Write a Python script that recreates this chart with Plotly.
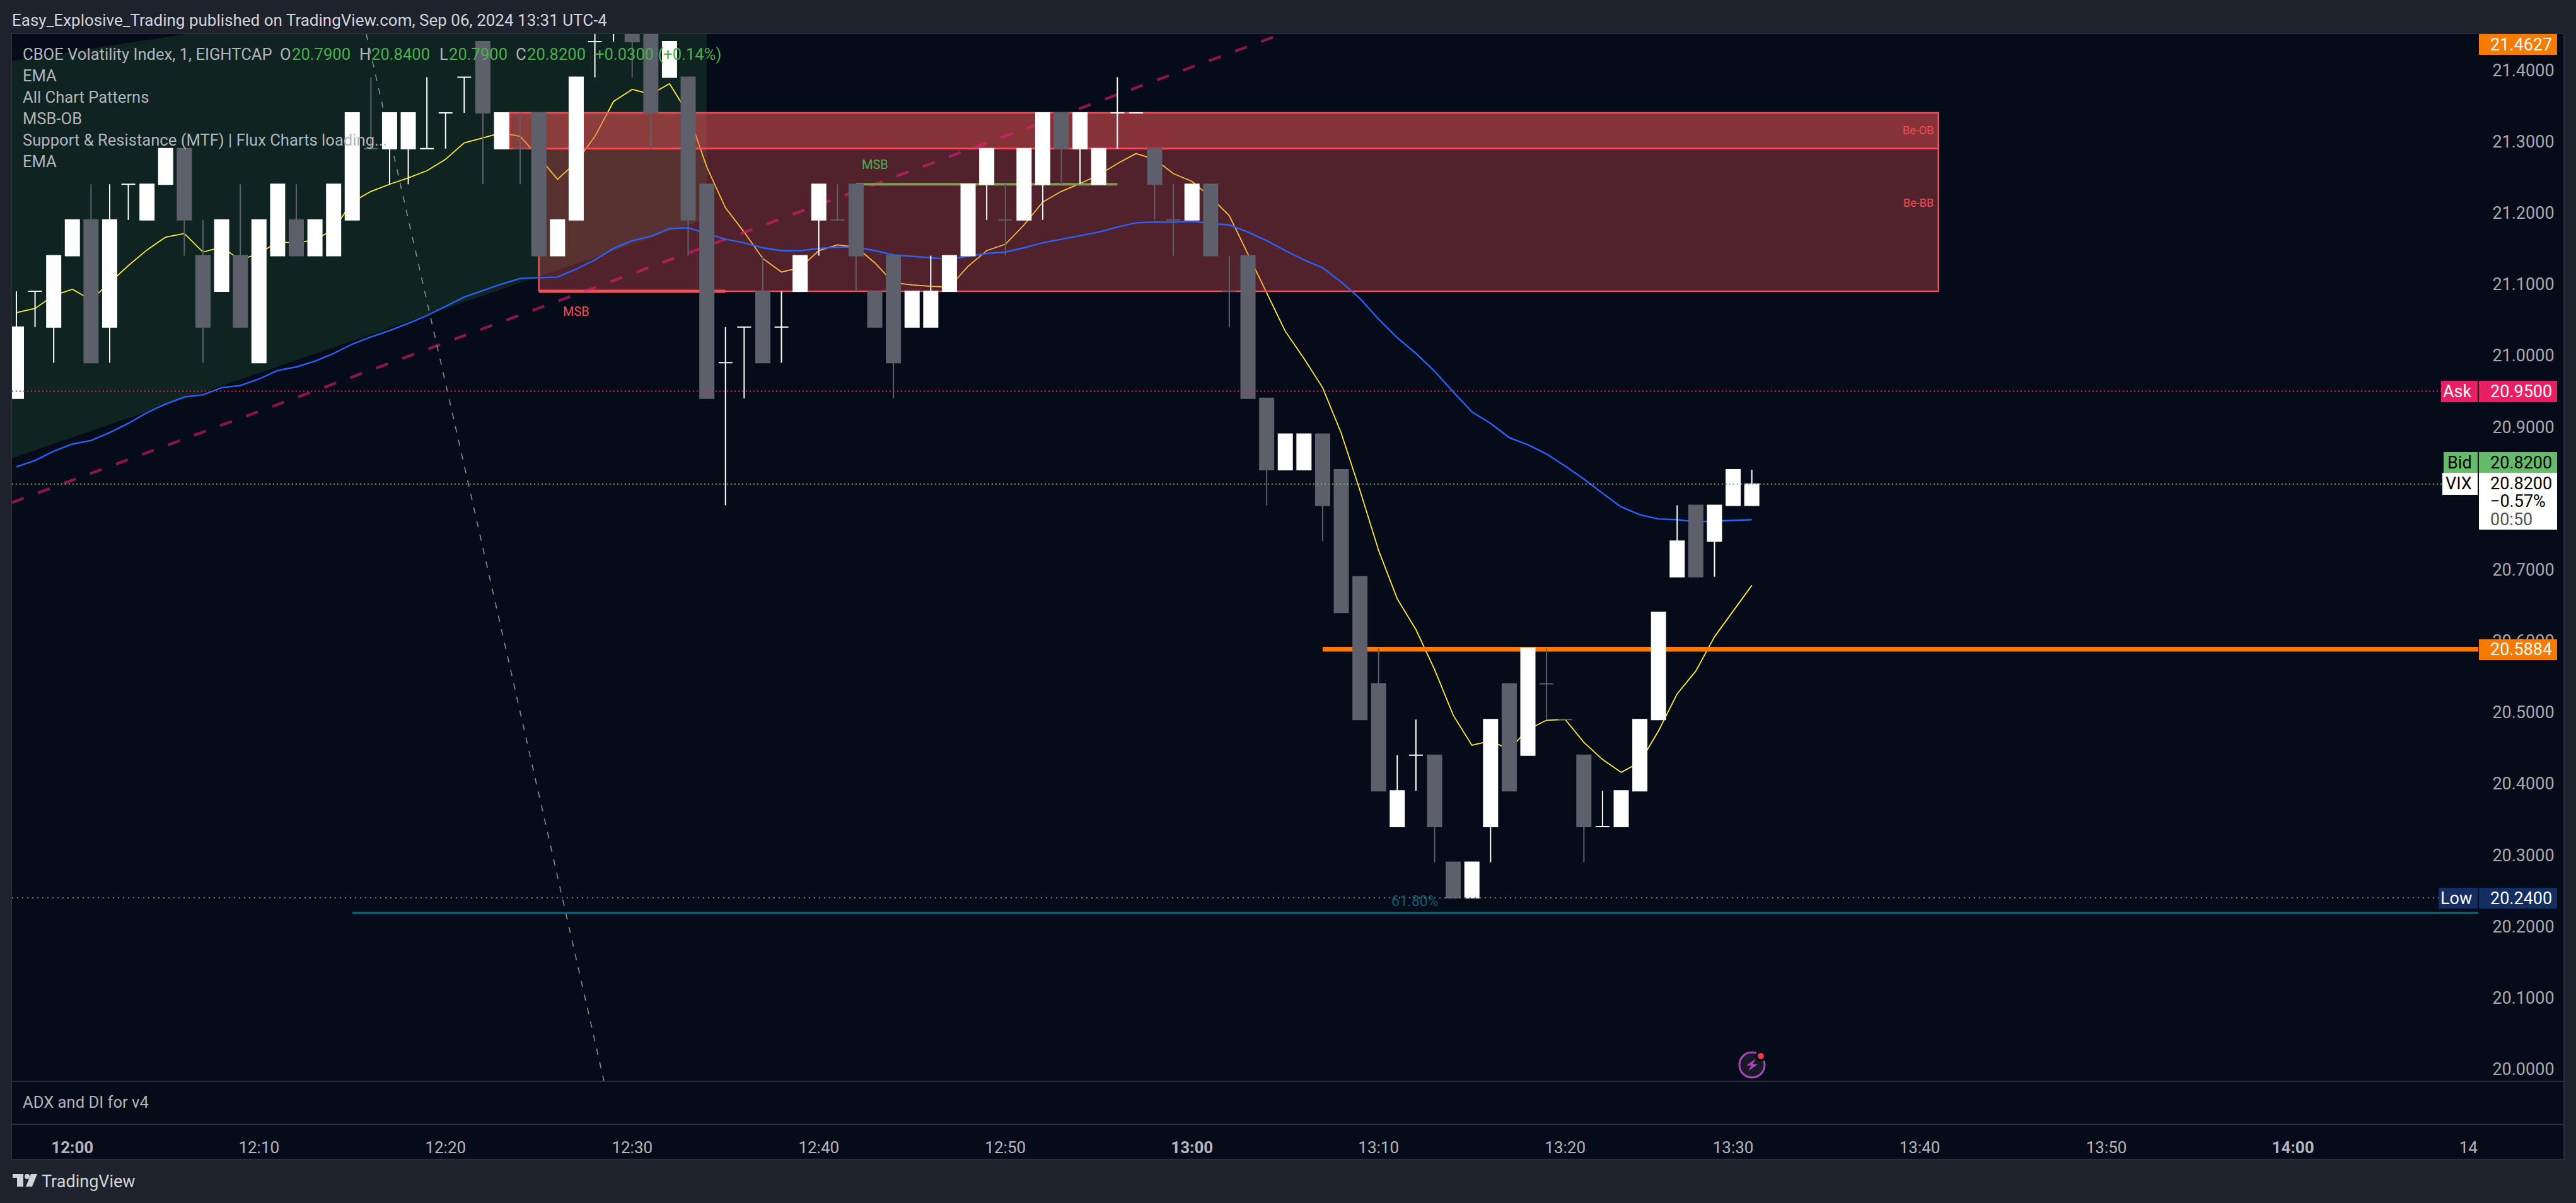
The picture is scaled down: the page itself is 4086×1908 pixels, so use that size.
import plotly.graph_objects as go

# bar index 3 is 12:00, one bar per minute, 13:30 sits on index 92 (a bar is missing)
tick_vals = [3, 13, 23, 33, 43, 53, 63, 73, 83, 92, 102, 112, 122, 131.4]
tick_text = ["<b>12:00</b>", "12:10", "12:20", "12:30", "12:40", "12:50", "<b>13:00</b>", "13:10",
             "13:20", "13:30", "13:40", "13:50", "<b>14:00</b>", "14"]
# 20.8 is left out, the Bid and VIX labels cover it
price_ticks = [21.4, 21.3, 21.2, 21.1, 21.0, 20.9, 20.7, 20.6, 20.5, 20.4, 20.3, 20.2, 20.1, 20.0]

bar_up = ("wwwwgwwwwg" "gwgwwgwwwg" "wwwwwgwggw" "wwwggwggww" "gwwwggggww"
          "wwwgwwgwww" "wggwggggww" "ggggwwggww" "gwgggwwwww" "gwww")
bar_open = [20.94, 21.09, 21.04, 21.14, 21.19, 21.04, 21.24, 21.19, 21.24, 21.29,
            21.14, 21.09, 21.14, 20.99, 21.14, 21.19, 21.14, 21.14, 21.19, 21.29,
            21.29, 21.29, 21.29, 21.34, 21.39, 21.44, 21.29, 21.29, 21.34, 21.14,
            21.19, 21.44, 21.49, 21.49, 21.49, 21.39, 21.39, 21.24, 20.99, 21.04,
            21.09, 21.04, 21.09, 21.19, 21.19, 21.24, 21.09, 21.14, 21.04, 21.04,
            21.09, 21.14, 21.24, 21.19, 21.19, 21.24, 21.34, 21.29, 21.24, 21.34,
            21.34, 21.29, 21.19, 21.19, 21.24, 21.09, 21.14, 20.94, 20.84, 20.84,
            20.89, 20.84, 20.69, 20.54, 20.34, 20.44, 20.44, 20.29, 20.24, 20.34,
            20.54, 20.44, 20.54, 20.49, 20.44, 20.34, 20.34, 20.39, 20.49, 20.69,
            20.79, 20.74, 20.79, 20.79]
bar_high = [21.09, 21.09, 21.14, 21.19, 21.24, 21.24, 21.24, 21.24, 21.29, 21.29,
            21.19, 21.19, 21.24, 21.19, 21.24, 21.24, 21.19, 21.24, 21.34, 21.39,
            21.34, 21.34, 21.39, 21.34, 21.39, 21.44, 21.34, 21.34, 21.34, 21.19,
            21.39, 21.49, 21.54, 21.49, 21.49, 21.44, 21.39, 21.24, 21.04, 21.04,
            21.14, 21.09, 21.14, 21.24, 21.24, 21.24, 21.09, 21.14, 21.09, 21.14,
            21.14, 21.24, 21.29, 21.24, 21.29, 21.34, 21.34, 21.34, 21.29, 21.39,
            21.34, 21.29, 21.24, 21.24, 21.24, 21.14, 21.14, 20.94, 20.89, 20.89,
            20.89, 20.84, 20.69, 20.59, 20.44, 20.49, 20.44, 20.29, 20.29, 20.49,
            20.54, 20.59, 20.59, 20.49, 20.44, 20.39, 20.39, 20.49, 20.64, 20.79,
            20.79, 20.79, 20.84, 20.84]
bar_low = [20.94, 21.04, 20.99, 21.14, 20.99, 20.99, 21.19, 21.19, 21.24, 21.14,
           20.99, 21.09, 21.04, 20.99, 21.14, 21.14, 21.14, 21.14, 21.19, 21.29,
           21.24, 21.24, 21.29, 21.29, 21.34, 21.24, 21.29, 21.24, 21.14, 21.14,
           21.19, 21.39, 21.44, 21.39, 21.29, 21.39, 21.14, 20.94, 20.79, 20.94,
           20.99, 20.99, 21.09, 21.14, 21.19, 21.09, 21.04, 20.94, 21.04, 21.04,
           21.09, 21.14, 21.19, 21.14, 21.19, 21.19, 21.24, 21.24, 21.24, 21.29,
           21.34, 21.19, 21.14, 21.19, 21.14, 21.04, 20.94, 20.79, 20.84, 20.84,
           20.74, 20.64, 20.49, 20.39, 20.34, 20.39, 20.29, 20.24, 20.24, 20.29,
           20.39, 20.44, 20.49, 20.49, 20.29, 20.34, 20.34, 20.39, 20.49, 20.69,
           20.69, 20.69, 20.79, 20.79]
bar_close = [21.04, 21.09, 21.14, 21.19, 20.99, 21.19, 21.24, 21.24, 21.29, 21.19,
             21.04, 21.19, 21.04, 21.19, 21.24, 21.14, 21.19, 21.24, 21.34, 21.29,
             21.34, 21.34, 21.29, 21.34, 21.39, 21.34, 21.34, 21.29, 21.14, 21.19,
             21.39, 21.44, 21.54, 21.44, 21.34, 21.44, 21.19, 20.94, 20.99, 21.04,
             20.99, 21.04, 21.14, 21.24, 21.19, 21.14, 21.04, 20.99, 21.09, 21.09,
             21.14, 21.24, 21.29, 21.19, 21.29, 21.34, 21.29, 21.34, 21.29, 21.34,
             21.34, 21.24, 21.19, 21.24, 21.14, 21.09, 20.94, 20.84, 20.89, 20.89,
             20.79, 20.64, 20.49, 20.39, 20.39, 20.44, 20.34, 20.24, 20.29, 20.49,
             20.39, 20.59, 20.54, 20.49, 20.34, 20.34, 20.39, 20.49, 20.64, 20.74,
             20.69, 20.79, 20.84, 20.82]

ema_fast = [21.060, 21.066, 21.084, 21.093, 21.078, 21.102, 21.126, 21.148, 21.166, 21.171,
            21.145, 21.152, 21.134, 21.143, 21.159, 21.158, 21.162, 21.177, 21.215, 21.230,
            21.240, 21.249, 21.259, 21.275, 21.298, 21.305, 21.312, 21.307, 21.278, 21.247,
            21.271, 21.307, 21.356, 21.373, 21.366, 21.381, 21.339, 21.264, 21.207, 21.173,
            21.136, 21.117, 21.123, 21.147, 21.155, 21.152, 21.130, 21.102, 21.099, 21.097,
            21.096, 21.125, 21.147, 21.156, 21.183, 21.215, 21.230, 21.241, 21.253, 21.269,
            21.283, 21.275, 21.255, 21.244, 21.222, 21.196, 21.142, 21.087, 21.034, 20.996,
            20.955, 20.891, 20.811, 20.727, 20.659, 20.616, 20.560, 20.496, 20.454, 20.460,
            20.448, 20.476, 20.489, 20.490, 20.458, 20.434, 20.416, 20.430, 20.474, 20.526,
            20.558, 20.606, 20.642, 20.678]
ema_slow = [20.844, 20.853, 20.866, 20.876, 20.881, 20.892, 20.905, 20.920, 20.932, 20.942,
            20.945, 20.955, 20.958, 20.967, 20.979, 20.984, 20.992, 21.003, 21.016, 21.026,
            21.035, 21.045, 21.056, 21.069, 21.082, 21.091, 21.100, 21.108, 21.109, 21.110,
            21.121, 21.134, 21.150, 21.161, 21.167, 21.178, 21.179, 21.171, 21.163, 21.158,
            21.151, 21.147, 21.147, 21.150, 21.152, 21.152, 21.147, 21.141, 21.139, 21.137,
            21.135, 21.139, 21.143, 21.145, 21.151, 21.158, 21.163, 21.168, 21.173, 21.180,
            21.186, 21.187, 21.187, 21.188, 21.185, 21.183, 21.173, 21.161, 21.147, 21.134,
            21.123, 21.103, 21.080, 21.051, 21.025, 21.003, 20.978, 20.949, 20.921, 20.905,
            20.885, 20.875, 20.862, 20.845, 20.827, 20.807, 20.788, 20.777, 20.771, 20.770,
            20.767, 20.768, 20.769, 20.770]

wedge_x = [-0.24, 9.1, 37, 37, -0.24]
wedge_y = [21.413, 21.4505, 21.4505, 21.192, 20.856]
zone_low_x = [28, 103, 103, 28, 28]
zone_low_y = [21.09, 21.09, 21.29, 21.29, 21.09]
zone_high_x = [26.4, 103, 103, 26.4, 26.4]
zone_high_y = [21.29, 21.29, 21.34, 21.34, 21.29]
msb_red_x = [28, 38]
msb_red_y = [21.09, 21.09]
msb_green_x = [45, 59]
msb_green_y = [21.24, 21.24]
trend_x = [-0.24, 67.8]
trend_y = [20.794, 21.4505]
fib_x = [18.75, 31.49]
fib_y = [21.4505, 19.983]
level_x = [70, 131.93]
level_y = [20.5884, 20.5884]
fib_level_x = [18, 131.93]
fib_level_y = [20.219, 20.219]
full_x = [-0.24, 131.93]
ask_y = [20.95, 20.95]
bid_y = [20.82, 20.82]
low_y = [20.24, 20.24]

X_RANGE = [-0.236, 131.93]
Y_RANGE = [19.983, 21.4505]

BG = "#050b18"
OUTER = "#1e222d"
EDGE = "#2a2e39"
WHITE = "#ffffff"
GRAY = "#5d606b"
FONT = "Roboto"

W, H = 4086, 1908
PANE_L, PANE_R, PANE_T, PANE_B = 19, 3931, 54, 1715


def px_x(p):
    return (p - PANE_L) / (PANE_R - PANE_L)


def px_y(p):
    return (PANE_B - p) / (PANE_B - PANE_T)


def add_line(figure, x, y, color, width, dash="solid", axis=""):
    figure.add_trace(go.Scatter(x=x, y=y, mode="lines", hoverinfo="skip",
                                xaxis="x" + axis, yaxis="y" + axis,
                                line=dict(color=color, width=width, dash=dash)))


def add_zone(figure, x, y, fill):
    figure.add_trace(go.Scatter(x=x, y=y, mode="lines", fill="toself", fillcolor=fill, hoverinfo="skip",
                                line=dict(color="#f44f55", width=2.5)))


def add_candles(figure, mark, color):
    # scatter always paints over candlesticks on one subplot, so the candles get their own overlay axes
    idx = [i for i, m in enumerate(bar_up) if m == mark]
    figure.add_trace(go.Candlestick(
        x=idx,
        open=[bar_open[i] for i in idx],
        high=[bar_high[i] for i in idx],
        low=[bar_low[i] for i in idx],
        close=[bar_close[i] for i in idx],
        whiskerwidth=0,
        hoverinfo="skip",
        xaxis="x2",
        yaxis="y2",
        increasing=dict(line=dict(color=color, width=2), fillcolor=color),
        decreasing=dict(line=dict(color=color, width=2), fillcolor=color),
    ))


def rect(x0, y0, x1, y1, color, layer="above"):
    return dict(type="rect", xref="paper", yref="paper", layer=layer,
                x0=px_x(x0), x1=px_x(x1), y0=px_y(y0), y1=px_y(y1),
                fillcolor=color, line=dict(width=0))


def circle(cx, cy, r, fill, line_color=None, line_width=0):
    return dict(type="circle", xref="paper", yref="paper", layer="above",
                x0=px_x(cx - r), x1=px_x(cx + r), y0=px_y(cy + r), y1=px_y(cy - r),
                fillcolor=fill, line=dict(color=line_color, width=line_width))


def polygon(points, color):
    path = "M " + " L ".join(f"{px_x(x)} {px_y(y)}" for x, y in points) + " Z"
    return dict(type="path", xref="paper", yref="paper", layer="above", path=path,
                fillcolor=color, line=dict(width=0))


def label(x, y, text, color="#d1d4dc", size=25.6, anchor="left"):
    return dict(xref="paper", yref="paper", x=px_x(x), y=px_y(y), text=text, showarrow=False,
                xanchor=anchor, yanchor="middle", align=anchor, borderpad=0, borderwidth=0,
                font=dict(family=FONT, size=size, color=color))


fig = go.Figure()
# fill sits under everything, the red boxes sit over the yellow ema (it turns orange there)
fig.add_trace(go.Scatter(x=wedge_x, y=wedge_y, mode="lines", fill="toself", fillcolor="rgba(76,175,80,0.15)",
                         line=dict(width=0), hoverinfo="skip"))
add_line(fig, list(range(len(ema_fast))), ema_fast, "#ffeb3b", 1.8)
add_zone(fig, zone_low_x, zone_low_y, "rgba(244,83,84,0.32)")
add_zone(fig, zone_high_x, zone_high_y, "rgba(244,83,84,0.54)")
add_line(fig, msb_red_x, msb_red_y, "#f44f55", 5)
add_line(fig, trend_x, trend_y, "rgba(233,30,120,0.58)", 4.5, "20px,24px")
add_line(fig, fib_x, fib_y, "#8a8d98", 1.6, "10px,12px")
add_line(fig, msb_green_x, msb_green_y, "#7f9a52", 4)
add_line(fig, fib_level_x, fib_level_y, "#0b6a7a", 3)
add_line(fig, list(range(len(ema_slow))), ema_slow, "#2962ff", 2.4)
add_line(fig, level_x, level_y, "#f57c00", 7.5)
add_candles(fig, "w", WHITE)
add_candles(fig, "g", GRAY)
add_line(fig, full_x, ask_y, "#e91e63", 2, "2px,4px", "3")
add_line(fig, full_x, bid_y, "#66bb6a", 2, "2px,4px", "3")
add_line(fig, full_x, low_y, "#787b86", 2, "2px,6px", "3")

shapes = [
    rect(PANE_L, PANE_B, 4066, 1838, BG, "below"),
    rect(PANE_R, PANE_T, 4066, PANE_B, BG, "below"),
    rect(PANE_L - 1, PANE_T - 2, 4066, PANE_T, EDGE),
    rect(PANE_L - 2, PANE_T, PANE_L, 1840, EDGE),
    rect(4066, PANE_T - 2, 4068, 1840, EDGE),
    rect(PANE_L, 1838, 4066, 1840, EDGE),
    rect(PANE_L, 1714, 4066, 1716, EDGE),
    rect(PANE_L, 1782, 4066, 1784, EDGE),
    # price labels on the right
    rect(3932, 54, 4056, 87, "#f57c00"),
    rect(3872, 604, 3930, 638, "#e91e63"),
    rect(3932, 604, 4056, 638, "#e91e63"),
    rect(3876, 717, 3930, 750, "#66bb6a"),
    rect(3932, 717, 4056, 750, "#66bb6a"),
    rect(3874, 750, 3930, 785, WHITE),
    rect(3932, 750, 4056, 840, WHITE),
    rect(3932, 1014, 4056, 1047, "#f57c00"),
    rect(3868, 1408, 3930, 1441, "#142e61"),
    rect(3932, 1408, 4056, 1441, "#142e61"),
    # alert icon
    circle(2779, 1689, 20, "#171a26", "#ab47bc", 3),
    circle(2793, 1675, 9, BG),
    circle(2793, 1675, 5, "#f23645"),
    polygon([(2785, 1679), (2770, 1690), (2778, 1690), (2773, 1699), (2788, 1688), (2780, 1688)], "#ab47bc"),
    # tradingview logo
    rect(20, 1862, 37, 1868, "#d1d4dc"),
    rect(27, 1868, 37, 1882, "#d1d4dc"),
    circle(43, 1866, 4, "#d1d4dc"),
    polygon([(49, 1862), (59, 1862), (51, 1882), (41, 1882)], "#d1d4dc"),
]

annotations = [
    label(19, 32, "Easy_Explosive_Trading published on TradingView.com, Sep 06, 2024 13:31 UTC-4", size=26),
    label(36, 86, "CBOE Volatility Index, 1, EIGHTCAP", "#b2b5be"),
    label(444, 86, "O", "#b2b5be"),
    label(463, 86, "20.7900", "#4caf50"),
    label(570, 86, "H", "#b2b5be"),
    label(589, 86, "20.8400", "#4caf50"),
    label(697, 86, "L", "#b2b5be"),
    label(712, 86, "20.7900", "#4caf50"),
    label(818, 86, "C", "#b2b5be"),
    label(836, 86, "20.8200", "#4caf50"),
    label(944, 86, "+0.0300 (+0.14%)", "#4caf50"),
    label(36, 120, "EMA", "#b2b5be"),
    label(36, 154, "All Chart Patterns", "#b2b5be"),
    label(36, 188, "MSB-OB", "#b2b5be"),
    label(36, 222, "Support &amp; Resistance (MTF) | Flux Charts loading...", "#b2b5be"),
    label(36, 256, "EMA", "#b2b5be"),
    label(36, 1748, "ADX and DI for v4", "#b2b5be"),
    label(66, 1874, "TradingView", size=27),
    label(3067, 207, "Be-OB", "#f24f56", 18, "right"),
    label(3067, 321, "Be-BB", "#f24f56", 18, "right"),
    label(914, 494, "MSB", "#f44f55", 20, "center"),
    label(1388, 261, "MSB", "#4caf50", 20, "center"),
    label(2244, 1429, "61.80%", "#0d5d6e", 23, "center"),
    label(3950, 71, "21.4627", WHITE, 27),
    label(3921, 621, "Ask", WHITE, 27, "right"),
    label(3950, 621, "20.9500", WHITE, 27),
    label(3921, 734, "Bid", "#000000", 27, "right"),
    label(3950, 734, "20.8200", "#000000", 27),
    label(3921, 767, "VIX", "#000000", 27, "right"),
    label(3950, 767, "20.8200", "#000000", 27),
    label(3950, 795, "\u22120.57%", "#000000", 27),
    label(3950, 824, "00:50", "#555555", 27),
    label(3950, 1030, "20.5884", WHITE, 27),
    label(3921, 1425, "Low", WHITE, 27, "right"),
    label(3950, 1425, "20.2400", WHITE, 27),
]

hidden_x = dict(range=X_RANGE, overlaying="x", visible=False, rangeslider=dict(visible=False))
hidden_y = dict(range=Y_RANGE, overlaying="y", visible=False)

fig.update_layout(
    width=W,
    height=H,
    margin=dict(l=PANE_L, r=W - PANE_R, t=PANE_T, b=H - PANE_B, autoexpand=False),
    paper_bgcolor=OUTER,
    plot_bgcolor=BG,
    showlegend=False,
    boxgap=0.257,
    boxgroupgap=0,
    shapes=shapes,
    annotations=annotations,
    font=dict(family=FONT),
    xaxis=dict(
        range=X_RANGE,
        rangeslider=dict(visible=False),
        showgrid=False,
        zeroline=False,
        tickmode="array",
        tickvals=tick_vals,
        ticktext=tick_text,
        tickfont=dict(family=FONT, size=26, color="#b2b5be"),
        ticks="outside",
        ticklen=82,
        tickcolor="rgba(0,0,0,0)",
    ),
    yaxis=dict(
        range=Y_RANGE,
        side="right",
        showgrid=False,
        zeroline=False,
        tickmode="array",
        tickvals=price_ticks,
        ticktext=[f"{v:.4f}" for v in price_ticks],
        tickfont=dict(family=FONT, size=27, color="#a6a9b2"),
        ticks="outside",
        ticklen=16,
        tickcolor="rgba(0,0,0,0)",
    ),
    xaxis2=hidden_x,
    yaxis2=hidden_y,
    xaxis3=hidden_x,
    yaxis3=hidden_y,
)

fig.write_html("out.html", post_script="document.body.style.margin='0';", config={"displayModeBar": False})
